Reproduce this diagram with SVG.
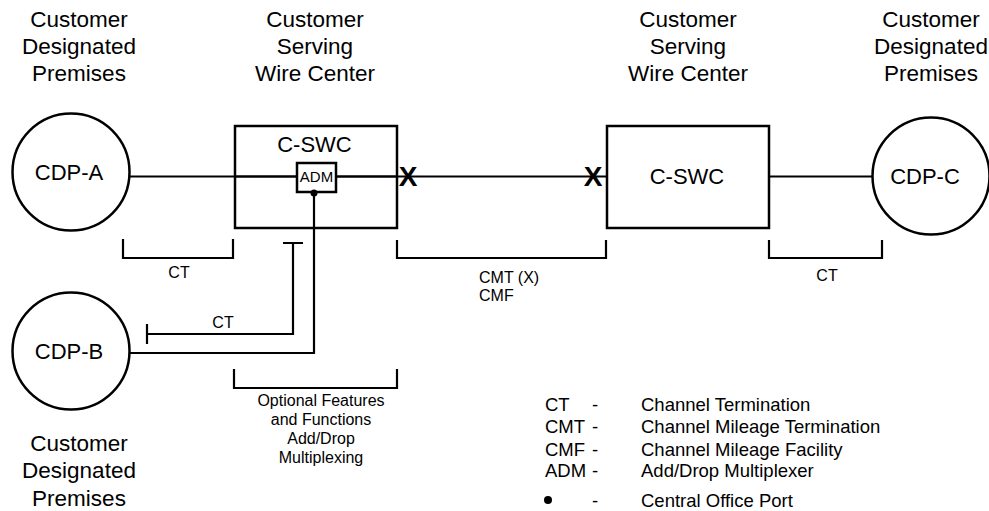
<svg xmlns="http://www.w3.org/2000/svg" width="989" height="511" viewBox="0 0 989 511">
<style>
text{font-family:"Liberation Sans",Arial,sans-serif;fill:#000}
.h{font-size:22.5px;text-anchor:middle}
.n{font-size:22px;text-anchor:middle}
.s{font-size:16px}
.c{text-anchor:middle}
.lg{font-size:18.5px}
.x{font-size:28px;font-weight:bold;text-anchor:middle}
.ln{fill:none;stroke:#000;stroke-width:2.2}
.shape{fill:#fff;stroke:#000;stroke-width:2.5}
</style>
<rect width="989" height="511" fill="#fff"/>
<g id="headings">
<text class="h" x="79" y="27">Customer</text>
<text class="h" x="79" y="54">Designated</text>
<text class="h" x="79" y="81">Premises</text>
<text class="h" x="315" y="27">Customer</text>
<text class="h" x="315" y="54">Serving</text>
<text class="h" x="315" y="81">Wire Center</text>
<text class="h" x="688" y="27">Customer</text>
<text class="h" x="688" y="54">Serving</text>
<text class="h" x="688" y="81">Wire Center</text>
<text class="h" x="931" y="27">Customer</text>
<text class="h" x="931" y="54">Designated</text>
<text class="h" x="931" y="81">Premises</text>
<text class="h" x="79" y="451">Customer</text>
<text class="h" x="79" y="478">Designated</text>
<text class="h" x="79" y="506">Premises</text>
</g>
<g id="connectors">
<path class="ln" d="M130 176.5H607M769 176.5H873"/>
<path class="ln" d="M314 193V353H130"/>
<path class="ln" d="M147 324V344M147 334H293V243M283 243H303"/>
<path class="ln" d="M123 239V258H233V239"/>
<path class="ln" d="M397 240V258H606V240"/>
<path class="ln" d="M769 240V258H882V240"/>
<path class="ln" d="M234 369V388H397V369"/>
<text class="x" x="408" y="186">X</text>
<text class="x" x="593" y="186">X</text>
</g>
<g id="cdp-a">
<circle class="shape" cx="71" cy="172" r="58.5"/>
<text class="n" x="69" y="180">CDP-A</text>
</g>
<g id="cdp-b">
<circle class="shape" cx="71" cy="351" r="58.5"/>
<text class="n" x="69" y="359">CDP-B</text>
</g>
<g id="cdp-c">
<circle class="shape" cx="931" cy="176" r="58.5"/>
<text class="n" x="925" y="184">CDP-C</text>
</g>
<g id="cswc-left">
<rect class="ln" x="235" y="126" width="162" height="102" style="stroke-width:2.5"/>
<path class="ln" d="M235 176.5H297M336 176.5H397"/>
<text class="n" x="314.5" y="152">C-SWC</text>
</g>
<g id="adm">
<rect x="297" y="163" width="39" height="29" fill="#fff" stroke="#000" stroke-width="2.5"/>
<text x="316.5" y="182" font-size="15" text-anchor="middle">ADM</text>
<circle cx="314" cy="193" r="3.5" fill="#000"/>
</g>
<g id="cswc-right">
<rect class="shape" x="607" y="126" width="162" height="102"/>
<text class="n" x="687" y="184">C-SWC</text>
</g>
<g id="labels">
<text class="s c" x="179" y="278">CT</text>
<text class="s c" x="223" y="328">CT</text>
<text class="s c" x="827" y="281">CT</text>
<text class="s" x="479" y="283">CMT (X)</text>
<text class="s" x="479" y="301">CMF</text>
<text class="s c" x="321" y="406">Optional Features</text>
<text class="s c" x="321" y="425">and Functions</text>
<text class="s c" x="321" y="444">Add/Drop</text>
<text class="s c" x="321" y="463">Multiplexing</text>
</g>
<g id="legend">
<text class="lg" x="545" y="411">CT</text>
<text class="lg" x="545" y="433">CMT</text>
<text class="lg" x="545" y="456">CMF</text>
<text class="lg" x="545" y="477">ADM</text>
<circle cx="548" cy="500" r="4" fill="#000"/>
<text class="lg" x="592" y="411">-</text>
<text class="lg" x="592" y="433">-</text>
<text class="lg" x="592" y="456">-</text>
<text class="lg" x="592" y="477">-</text>
<text class="lg" x="592" y="507">-</text>
<text class="lg" x="641" y="411">Channel Termination</text>
<text class="lg" x="641" y="433">Channel Mileage Termination</text>
<text class="lg" x="641" y="456">Channel Mileage Facility</text>
<text class="lg" x="641" y="477">Add/Drop Multiplexer</text>
<text class="lg" x="641" y="507">Central Office Port</text>
</g>
</svg>
